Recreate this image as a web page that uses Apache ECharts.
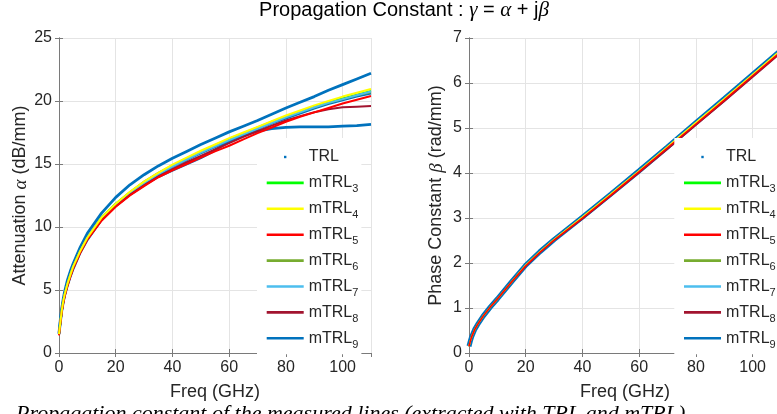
<!DOCTYPE html>
<html><head><meta charset="utf-8">
<script src="https://cdn.jsdelivr.net/npm/echarts@6/dist/echarts.min.js"></script>
<style>html,body{margin:0;padding:0;background:#fff}#c{width:777px;height:414px}</style>
</head><body><div id="c"></div>
<script>
// ---------- data ----------
const freqA = [0, 0.5, 1, 1.5, 2, 3, 4, 5, 7.5, 10, 15, 20, 25, 30, 35, 40, 45, 50, 55, 60, 65, 70, 75, 80, 85, 90, 95, 100, 105, 110];
const alphaTRLa = [1.6, 2.7, 3.6, 4.3, 4.9, 5.8, 6.5, 7.1, 8.4, 9.5, 11.1, 12.35, 13.35, 14.15, 14.85, 15.45, 16.0, 16.55, 17.05, 17.55, 18.0, 18.45, 18.95, 19.45, 19.9, 20.35, 20.85, 21.3, 21.75, 22.2];
const alphaTRLb = [1.5, 2.5, 3.4, 4.05, 4.6, 5.4, 6.1, 6.7, 8.0, 9.0, 10.6, 11.7, 12.6, 13.35, 14.0, 14.5, 15.0, 15.5, 16.1, 16.8, 17.3, 17.6, 17.8, 17.9, 17.95, 17.95, 17.95, 18.0, 18.05, 18.15];
const alphaM3 = [1.5, 2.5, 3.4, 4.1, 4.65, 5.5, 6.2, 6.85, 8.1, 9.15, 10.75, 11.85, 12.75, 13.55, 14.25, 14.85, 15.4, 15.95, 16.45, 16.95, 17.4, 17.85, 18.3, 18.75, 19.15, 19.55, 19.9, 20.2, 20.5, 20.8];
const alphaM4 = [1.5, 2.5, 3.4, 4.1, 4.65, 5.5, 6.2, 6.85, 8.1, 9.15, 10.75, 11.85, 12.8, 13.6, 14.3, 14.95, 15.5, 16.05, 16.55, 17.05, 17.5, 17.95, 18.4, 18.85, 19.25, 19.65, 20.0, 20.35, 20.65, 20.95];
const alphaM5 = [1.4, 2.4, 3.3, 3.95, 4.5, 5.35, 6.05, 6.7, 7.95, 9.0, 10.5, 11.6, 12.5, 13.25, 13.95, 14.5, 15.0, 15.5, 16.0, 16.45, 16.95, 17.45, 17.9, 18.35, 18.75, 19.1, 19.45, 19.8, 20.1, 20.4];
const alphaM6 = [1.5, 2.5, 3.4, 4.1, 4.65, 5.5, 6.2, 6.85, 8.1, 9.15, 10.75, 11.85, 12.75, 13.6, 14.3, 14.9, 15.45, 16.0, 16.5, 17.0, 17.45, 17.9, 18.35, 18.75, 19.15, 19.5, 19.85, 20.15, 20.45, 20.7];
const alphaM7 = [1.5, 2.5, 3.4, 4.1, 4.65, 5.5, 6.2, 6.85, 8.1, 9.15, 10.7, 11.8, 12.7, 13.5, 14.2, 14.8, 15.35, 15.9, 16.4, 16.9, 17.35, 17.8, 18.25, 18.7, 19.1, 19.5, 19.85, 20.15, 20.45, 20.75];
const alphaM8 = [1.45, 2.45, 3.35, 4.0, 4.55, 5.4, 6.1, 6.75, 8.0, 9.05, 10.55, 11.65, 12.55, 13.3, 14.0, 14.6, 15.15, 15.65, 16.15, 16.65, 17.15, 17.6, 18.05, 18.45, 18.8, 19.1, 19.35, 19.5, 19.55, 19.6];
const alphaM9 = [1.5, 2.45, 3.35, 4.05, 4.6, 5.45, 6.15, 6.8, 8.05, 9.1, 10.65, 11.75, 12.65, 13.45, 14.15, 14.75, 15.3, 15.85, 16.35, 16.85, 17.3, 17.75, 18.2, 18.6, 19.0, 19.4, 19.75, 20.05, 20.35, 20.6];

const freqB = [0, 0.5, 1, 2, 3, 5, 7.5, 10, 15, 20, 25, 30, 40, 50, 60, 70, 80, 90, 100, 110];
const betaTRL = [0.15, 0.27, 0.37, 0.52, 0.63, 0.82, 1.02, 1.2, 1.58, 1.95, 2.25, 2.52, 3.02, 3.53, 4.05, 4.58, 5.12, 5.65, 6.19, 6.73];
const betaM   = [0.15, 0.27, 0.37, 0.52, 0.63, 0.82, 1.02, 1.2, 1.58, 1.95, 2.25, 2.52, 3.02, 3.53, 4.05, 4.58, 5.12, 5.65, 6.19, 6.73];
const betaM5  = [0.15, 0.27, 0.37, 0.52, 0.63, 0.82, 1.02, 1.2, 1.58, 1.94, 2.24, 2.51, 3.0, 3.51, 4.03, 4.56, 5.09, 5.62, 6.16, 6.7];
const betaM8  = [0.15, 0.27, 0.37, 0.52, 0.63, 0.82, 1.02, 1.2, 1.57, 1.93, 2.23, 2.5, 2.98, 3.49, 4.01, 4.53, 5.06, 5.59, 6.13, 6.67];

const xTicks = [0, 20, 40, 60, 80, 100];
const alphaTicks = [0, 5, 10, 15, 20, 25];
const betaTicks = [0, 1, 2, 3, 4, 5, 6, 7];

const legendNames = ['TRL', 'mTRL3', 'mTRL4', 'mTRL5', 'mTRL6', 'mTRL7', 'mTRL8', 'mTRL9'];
const colors = {
  TRL: '#0072BD', mTRL3: '#00FF00', mTRL4: '#FFFF00', mTRL5: '#FF0000', mTRL6: '#77AC30',
  mTRL7: '#4DBEEE', mTRL8: '#A2142F', mTRL9: '#0072BD'
};

// ---------- helpers ----------
const zip = (xs, ys) => xs.map((x, i) => [x, ys[i]]);
const FONT = '"Liberation Sans", Arial, Helvetica, sans-serif';
const SERIF = '"Liberation Serif", "Times New Roman", serif';
const TXT = '#262626';
const BOX = '#7a7a7a';
const GRIDC = '#e4e4e4';

function bottomX(gi) {
  return {
    type: 'value', gridIndex: gi, position: 'bottom', min: 0, max: 110, interval: 20,
    name: 'Freq (GHz)', nameLocation: 'middle', nameGap: 30,
    nameTextStyle: { fontFamily: FONT, fontSize: 18, color: TXT },
    axisLine: { show: true, lineStyle: { color: BOX, width: 1 } },
    axisTick: { show: true, inside: true, length: 4, lineStyle: { color: BOX } },
    axisLabel: { show: true, margin: 7, fontFamily: FONT, fontSize: 16, color: TXT, showMaxLabel: false,
      formatter: v => xTicks.includes(v) ? String(v) : '' },
    splitLine: { show: true, lineStyle: { color: GRIDC, width: 1 } }
  };
}
function topX(gi) {
  return {
    type: 'value', gridIndex: gi, position: 'top', min: 0, max: 110, interval: 20,
    axisLine: { show: true, lineStyle: { color: BOX, width: 1 } },
    axisTick: { show: true, inside: true, length: 4, lineStyle: { color: BOX } },
    axisLabel: { show: false }, splitLine: { show: false }
  };
}
function leftY(gi, max, interval, ticks, name, gap) {
  return {
    type: 'value', gridIndex: gi, position: 'left', min: 0, max: max, interval: interval,
    name: name, nameLocation: 'middle', nameGap: gap,
    nameTextStyle: { fontFamily: FONT, fontSize: 18, color: TXT,
      rich: { g: { fontFamily: SERIF, fontStyle: 'italic', fontSize: 19, color: TXT } } },
    axisLine: { show: true, lineStyle: { color: BOX, width: 1 } },
    axisTick: { show: true, inside: true, length: 4, lineStyle: { color: BOX } },
    axisLabel: { show: true, margin: 7, fontFamily: FONT, fontSize: 16, color: TXT,
      formatter: v => ticks.includes(v) ? String(v) : '' },
    splitLine: { show: true, lineStyle: { color: GRIDC, width: 1 } }
  };
}
function rightY(gi, max, interval) {
  return {
    type: 'value', gridIndex: gi, position: 'right', min: 0, max: max, interval: interval,
    axisLine: { show: true, lineStyle: { color: BOX, width: 1 } },
    axisTick: { show: true, inside: true, length: 4, lineStyle: { color: BOX } },
    axisLabel: { show: false }, splitLine: { show: false }
  };
}
function line(name, xs, ys, xi, yi, width, z) {
  return {
    type: 'line', name: name, xAxisIndex: xi, yAxisIndex: yi, data: zip(xs, ys),
    showSymbol: false, symbol: 'none', smooth: false,
    lineStyle: { color: colors[name], width: width }, itemStyle: { color: colors[name] },
    z: z, animation: false, silent: true
  };
}
const ICON_DOT = 'path://M0,0M37,0M37,20M0,20M17.3,8.8L19.7,8.8L19.7,11.2L17.3,11.2Z';
const ICON_LINE = 'path://M0,0M37,0M37,20M0,20M0,8.7L37,8.7L37,11.3L0,11.3Z';
function legend(left) {
  return {
    orient: 'vertical', left: left, top: 138, padding: [7, 3, 4, 9.7],
    backgroundColor: '#ffffff', itemWidth: 37, itemHeight: 20, itemGap: 1.9,
    selectedMode: false,
    data: legendNames.map(n => ({ name: n, icon: n === 'TRL' ? ICON_DOT : ICON_LINE,
      itemStyle: { color: colors[n], borderWidth: 0 } })),
    formatter: n => n.startsWith('mTRL') ? 'mTRL{s|' + n.slice(4) + '}' : n,
    textStyle: { fontFamily: FONT, fontSize: 16, color: TXT, lineHeight: 24,
      rich: { s: { fontFamily: FONT, fontSize: 11, lineHeight: 12, verticalAlign: 'bottom', color: TXT } } }
  };
}

const series = [
  // left: attenuation
  line('TRL', freqA, alphaTRLa, 0, 0, 2.8, 2),
  line('TRL', freqA, alphaTRLb, 0, 0, 2.8, 2),
  line('mTRL9', freqA, alphaM9, 0, 0, 2, 3),
  line('mTRL3', freqA, alphaM3, 0, 0, 2, 3),
  line('mTRL6', freqA, alphaM6, 0, 0, 2, 3),
  line('mTRL7', freqA, alphaM7, 0, 0, 2, 3),
  line('mTRL8', freqA, alphaM8, 0, 0, 2, 3),
  line('mTRL5', freqA, alphaM5, 0, 0, 2, 3),
  line('mTRL4', freqA, alphaM4, 0, 0, 2, 3),
  // right: phase constant
  line('TRL', freqB, betaTRL, 2, 2, 5, 2),
  line('mTRL9', freqB, betaM, 2, 2, 1.5, 3),
  line('mTRL3', freqB, betaM, 2, 2, 1.5, 3),
  line('mTRL6', freqB, betaM, 2, 2, 1.5, 3),
  line('mTRL7', freqB, betaM, 2, 2, 1.5, 3),
  line('mTRL8', freqB, betaM8, 2, 2, 1.5, 3),
  line('mTRL4', freqB, betaM, 2, 2, 1.5, 3),
  line('mTRL5', freqB, betaM5, 2, 2, 1.5, 3)
];

const chart = echarts.init(document.getElementById('c'), null, { renderer: 'canvas' });
chart.setOption({
  animation: false,
  backgroundColor: '#ffffff',
  textStyle: { fontFamily: FONT },
  title: {
    text: 'Propagation Constant : {g|γ} = {g|α} + j{g|β}',
    left: 404, top: 0, textAlign: 'center', padding: 0,
    textStyle: { fontFamily: FONT, fontSize: 20, fontWeight: 'normal', color: '#000',
      rich: { g: { fontFamily: SERIF, fontStyle: 'italic', fontSize: 21, color: '#000' } } }
  },
  grid: [
    { left: 59, right: 406, top: 38, bottom: 61, outerBoundsMode: 'none', containLabel: false },
    { left: 469, right: -4, top: 38, bottom: 61, outerBoundsMode: 'none', containLabel: false }
  ],
  xAxis: [bottomX(0), topX(0), bottomX(1), topX(1)],
  yAxis: [
    leftY(0, 25, 5, alphaTicks, 'Attenuation {g|α} (dB/mm)', 29),
    rightY(0, 25, 5),
    leftY(1, 7, 1, betaTicks, 'Phase Constant {g|β} (rad/mm)', 23),
    rightY(1, 7, 1)
  ],
  legend: [legend(257), legend(674.3)],
  series: series,
  graphic: [{
    type: 'text', left: 16, top: 403, silent: true,
    style: { text: 'Propagation constant of the measured lines (extracted with TRL and mTRL)',
      font: 'italic 22px ' + SERIF, fill: '#000' }
  }]
});
</script>
</body></html>
